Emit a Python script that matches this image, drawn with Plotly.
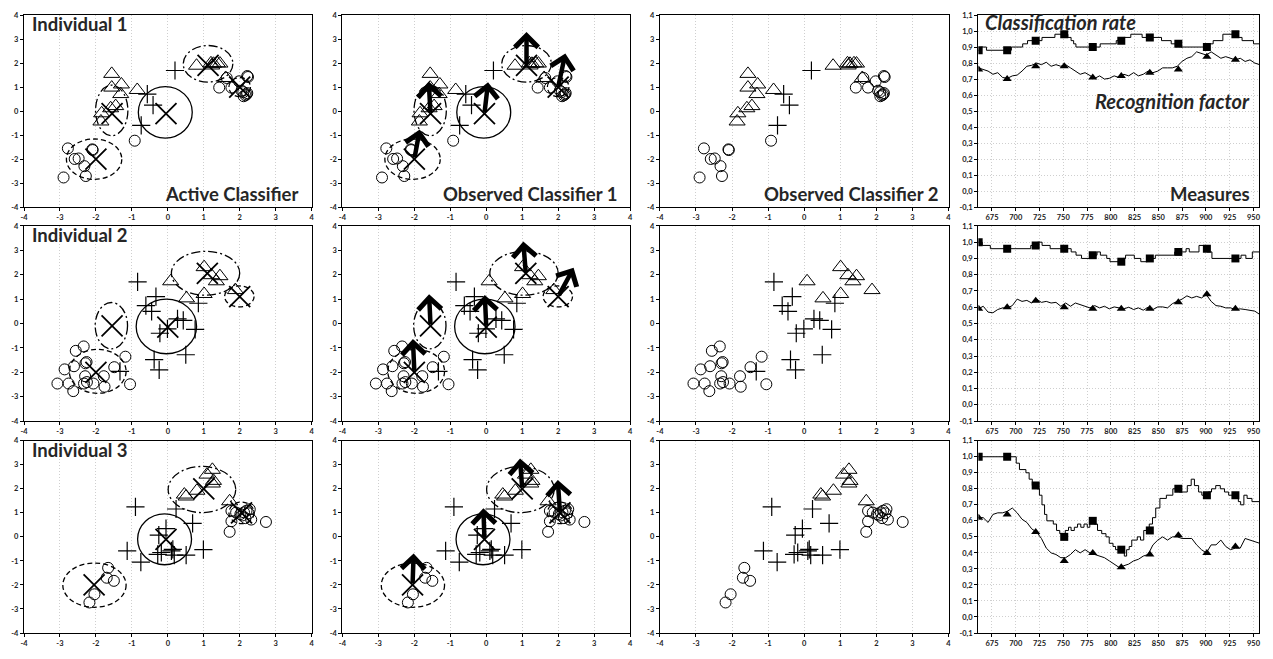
import plotly.graph_objects as go
from plotly.subplots import make_subplots

# ---------------- DATA ----------------
# Individual 1
tri_x_1 = [-1.56, -1.56, -1.29, -1.31, -0.85, -1.59, -1.45, -1.84, -1.86, 0.80, 1.20, 1.27, 1.38, 1.45, 1.61, 1.22]
tri_y_1 = [1.55, 0.98, 1.11, 0.71, 0.88, 0.12, 0.21, -0.09, -0.43, 1.89, 1.99, 1.97, 1.99, 1.98, 1.38, 1.90]
plus_x_1 = [0.20, -0.57, -0.41, -0.74]
plus_y_1 = [1.69, 0.71, 0.25, -0.59]
circ_x_1 = [-2.78, -2.10, -2.09, -2.59, -2.48, -2.32, -2.90, -2.28, -0.92, 1.43, 1.77, 1.64, 1.98, 2.21, 2.23, 2.10, 2.16, 2.21, 2.11, 2.19, 2.05]
circ_y_1 = [-1.55, -1.59, -1.62, -1.99, -1.97, -2.29, -2.76, -2.70, -1.23, 0.98, 0.98, 1.38, 1.24, 1.46, 1.42, 0.79, 0.66, 0.75, 0.62, 0.70, 0.85]
cent_x_1 = [-0.05, -1.55, -2.00, 1.12, 2.00]
cent_y_1 = [-0.10, -0.10, -2.00, 1.90, 1.00]
tip_x_1 = [0.05, -1.60, -1.85, 1.12, 2.20]
tip_y_1 = [1.20, 1.23, -0.76, 3.29, 2.40]
ell_cx_1 = [-0.07, -1.56, -2.05, 1.12, 2.00]
ell_cy_1 = [-0.05, 0.03, -2.00, 1.97, 1.00]
ell_rx_1 = [0.75, 0.45, 0.77, 0.69, 0.30]
ell_ry_1 = [1.07, 1.05, 0.84, 0.76, 0.40]
ell_st_1 = ["solid", "dashdot", "dash", "dashdot", "dash"]

# Individual 2
tri_x_2 = [1.01, 1.21, 1.45, 1.35, 0.08, 0.52, 1.01, 1.88]
tri_y_2 = [2.31, 1.98, 1.94, 1.73, 1.73, 1.03, 1.21, 1.37]
plus_x_2 = [-0.84, -0.33, -0.61, -0.45, 0.27, 0.43, -0.01, -0.22, 0.76, 0.50, -0.38, -0.24, -1.33, 0.85]
plus_y_2 = [1.71, 1.10, 0.73, 0.50, 0.19, 0.13, -0.22, -0.40, -0.24, -1.28, -1.48, -1.90, -1.96, 0.83]
circ_x_2 = [-2.34, -2.56, -1.18, -2.29, -2.26, -1.49, -2.61, -2.87, -1.78, -2.30, -3.07, -2.76, -2.33, -2.07, -1.76, -2.63, -1.05, -2.25]
circ_y_2 = [-0.94, -1.12, -1.36, -1.63, -1.58, -1.79, -1.75, -1.88, -2.16, -2.16, -2.46, -2.46, -2.46, -2.46, -2.59, -2.77, -2.49, -2.40]
cent_x_2 = [0.00, -1.55, -2.00, 1.10, 2.00]
cent_y_2 = [-0.15, -0.10, -2.00, 2.05, 1.10]
tip_x_2 = [-0.04, -1.59, -2.04, 1.03, 2.43]
tip_y_2 = [1.17, 1.20, -0.64, 3.36, 2.28]
ell_cx_2 = [-0.04, -1.57, -1.95, 1.05, 1.99]
ell_cy_2 = [-0.12, -0.09, -1.96, 2.06, 1.11]
ell_rx_2 = [0.84, 0.45, 0.79, 0.95, 0.41]
ell_ry_2 = [1.12, 0.95, 0.90, 0.90, 0.43]
ell_st_2 = ["solid", "dashdot", "dash", "dashdot", "dash"]

# Individual 3
tri_x_3 = [1.24, 1.09, 1.27, 1.24, 0.81, 0.46, 0.51, 1.72]
tri_y_3 = [2.79, 2.59, 2.33, 2.22, 1.92, 1.76, 1.68, 1.48]
plus_x_3 = [-0.90, 0.23, 0.69, -0.05, -0.25, -1.13, -0.75, 0.99, 0.14, -0.28, -0.18, 0.18, 0.51, 0.10]
plus_y_3 = [1.25, 1.16, 0.56, 0.34, 0.07, -0.58, -1.05, -0.53, -0.52, -0.73, -0.65, -0.76, -0.76, -0.58]
circ_x_3 = [-1.66, -1.70, -1.50, -2.04, -2.18, 1.72, 1.77, 1.77, 1.90, 2.07, 2.19, 2.25, 2.32, 2.73, 2.16, 2.28, 2.02, 2.12]
circ_y_3 = [-1.29, -1.70, -1.83, -2.39, -2.73, 0.21, 0.65, 1.08, 1.01, 0.89, 1.09, 0.98, 0.72, 0.62, 0.78, 1.15, 0.95, 1.02]
cent_x_3 = [-0.05, -2.05, 1.00, 2.05]
cent_y_3 = [-0.10, -2.00, 2.00, 1.00]
tip_x_3 = [-0.08, -2.02, 0.94, 1.99]
tip_y_3 = [1.19, -0.69, 3.26, 2.37]
ell_cx_3 = [-0.09, -2.04, 0.95, 2.05]
ell_cy_3 = [-0.10, -2.01, 1.97, 1.00]
ell_rx_3 = [0.75, 0.88, 0.94, 0.35]
ell_ry_3 = [1.06, 0.92, 0.96, 0.45]
ell_st_3 = ["solid", "dash", "dashdot", "dash"]

# Time series: classification rate (step change points) and recognition factor
rate_m_1 = [660.7, 664.1, 669.2, 695.4, 707.3, 712.4, 727.6, 741.2, 754.8, 758.2, 760.9, 763.3, 788.8, 805.7, 814.2, 821.0, 832.9, 853.3, 863.5, 873.6, 902.5, 907.6, 917.8, 933.0, 938.0, 950.0, 956.0]
rate_v_1 = [0.88, 0.90, 0.88, 0.90, 0.92, 0.94, 0.96, 0.98, 0.96, 0.94, 0.92, 0.90, 0.92, 0.94, 0.96, 0.98, 0.96, 0.94, 0.92, 0.90, 0.92, 0.94, 0.98, 0.96, 0.94, 0.92, 0.92]
rate_m_2 = [660.7, 664.8, 673.3, 715.8, 723.0, 727.7, 736.2, 758.3, 763.4, 769.2, 778.7, 785.5, 789.0, 795.7, 799.1, 812.8, 815.5, 824.7, 831.5, 838.3, 846.8, 867.2, 879.1, 882.5, 892.7, 897.8, 901.2, 906.3, 936.9, 942.0, 948.8, 956.0]
rate_v_2 = [1.00, 0.98, 0.96, 0.98, 1.00, 0.98, 0.96, 0.94, 0.92, 0.90, 0.92, 0.94, 0.92, 0.90, 0.88, 0.90, 0.92, 0.90, 0.88, 0.90, 0.92, 0.94, 0.96, 0.94, 0.98, 0.96, 0.94, 0.90, 0.92, 0.90, 0.94, 0.94]
rate_m_3 = [660.7, 700.5, 703.9, 710.7, 714.1, 717.4, 722.5, 724.9, 727.6, 730.3, 732.7, 739.5, 742.9, 746.3, 748.7, 752.1, 755.5, 758.2, 761.6, 765.0, 768.4, 771.8, 775.2, 777.9, 782.6, 786.0, 790.4, 794.9, 798.3, 802.3, 805.0, 814.2, 816.6, 819.3, 822.0, 827.8, 831.2, 834.6, 840.4, 843.8, 847.2, 851.6, 858.4, 865.2, 872.0, 880.4, 884.5, 887.9, 892.3, 895.7, 902.5, 905.9, 910.3, 915.1, 919.5, 923.9, 928.0, 934.1, 936.5, 939.9, 943.3, 948.4, 956.0]
rate_v_3 = [1.00, 0.96, 0.92, 0.90, 0.86, 0.82, 0.80, 0.76, 0.70, 0.64, 0.60, 0.58, 0.54, 0.52, 0.50, 0.54, 0.56, 0.54, 0.56, 0.58, 0.56, 0.58, 0.56, 0.60, 0.58, 0.54, 0.52, 0.50, 0.46, 0.44, 0.42, 0.38, 0.42, 0.44, 0.48, 0.50, 0.48, 0.54, 0.58, 0.62, 0.68, 0.74, 0.76, 0.80, 0.78, 0.82, 0.86, 0.82, 0.78, 0.76, 0.78, 0.80, 0.82, 0.80, 0.78, 0.76, 0.74, 0.72, 0.70, 0.76, 0.74, 0.72, 0.72]

recog_v_1 = [0.77, 0.76, 0.75, 0.73, 0.74, 0.71, 0.705, 0.72, 0.725, 0.75, 0.78, 0.786, 0.80, 0.79, 0.805, 0.78, 0.79, 0.78, 0.79, 0.77, 0.75, 0.73, 0.74, 0.72, 0.705, 0.72, 0.70, 0.705, 0.72, 0.71, 0.73, 0.72, 0.74, 0.72, 0.73, 0.75, 0.74, 0.75, 0.77, 0.77, 0.77, 0.78, 0.81, 0.83, 0.84, 0.87, 0.86, 0.85, 0.87, 0.85, 0.83, 0.84, 0.83, 0.82, 0.83, 0.81, 0.82, 0.80, 0.79]
recog_v_2 = [0.59, 0.606, 0.57, 0.566, 0.586, 0.596, 0.596, 0.61, 0.65, 0.636, 0.642, 0.626, 0.65, 0.63, 0.636, 0.626, 0.63, 0.606, 0.626, 0.606, 0.626, 0.616, 0.606, 0.596, 0.61, 0.596, 0.606, 0.59, 0.602, 0.596, 0.59, 0.60, 0.586, 0.596, 0.582, 0.60, 0.586, 0.602, 0.602, 0.596, 0.622, 0.636, 0.65, 0.67, 0.657, 0.667, 0.657, 0.677, 0.636, 0.61, 0.606, 0.596, 0.596, 0.586, 0.59, 0.586, 0.582, 0.576, 0.556]
recog_v_3 = [0.62, 0.62, 0.59, 0.64, 0.65, 0.65, 0.66, 0.68, 0.65, 0.61, 0.59, 0.55, 0.53, 0.49, 0.43, 0.40, 0.39, 0.37, 0.37, 0.39, 0.42, 0.40, 0.42, 0.40, 0.39, 0.38, 0.37, 0.35, 0.33, 0.31, 0.32, 0.33, 0.35, 0.36, 0.38, 0.39, 0.45, 0.48, 0.50, 0.48, 0.50, 0.50, 0.49, 0.49, 0.49, 0.45, 0.42, 0.40, 0.45, 0.45, 0.48, 0.44, 0.42, 0.43, 0.43, 0.49, 0.48, 0.47, 0.46]

mark_m = [661, 691, 721, 751, 781, 811, 841, 871, 901, 931]
rate_mark_1 = [0.88, 0.88, 0.94, 0.98, 0.90, 0.94, 0.96, 0.92, 0.90, 0.98]
recog_mark_1 = [0.76, 0.70, 0.78, 0.78, 0.71, 0.72, 0.74, 0.76, 0.84, 0.82]
rate_mark_2 = [1.00, 0.96, 0.98, 0.96, 0.92, 0.88, 0.90, 0.94, 0.96, 0.90]
recog_mark_2 = [0.59, 0.60, 0.64, 0.60, 0.59, 0.59, 0.59, 0.63, 0.68, 0.59]
rate_mark_3 = [1.00, 1.00, 0.82, 0.50, 0.60, 0.42, 0.54, 0.80, 0.76, 0.76]
recog_mark_3 = [0.62, 0.64, 0.53, 0.35, 0.40, 0.31, 0.39, 0.51, 0.40, 0.44]

xy_ticks = [-4, -3, -2, -1, 0, 1, 2, 3, 4]
xy_ticktext = ["-4", "-3", "-2", "-1", "0", "1", "2", "3", "4"]
m_ticks = [675, 700, 725, 750, 775, 800, 825, 850, 875, 900, 925, 950]
r_ticks = [-0.1, 0.0, 0.1, 0.2, 0.3, 0.4, 0.5, 0.6, 0.7, 0.8, 0.9, 1.0, 1.1]
r_ticktext = ["-0,1", "0,0", "0,1", "0,2", "0,3", "0,4", "0,5", "0,6", "0,7", "0,8", "0,9", "1,0", "1,1"]

col_titles = ["Active Classifier", "Observed Classifier 1", "Observed Classifier 2"]
row_titles = ["Individual 1", "Individual 2", "Individual 3"]

inds = [
    dict(tx=tri_x_1, ty=tri_y_1, px=plus_x_1, py=plus_y_1, cx=circ_x_1, cy=circ_y_1,
         kx=cent_x_1, ky=cent_y_1, ax=tip_x_1, ay=tip_y_1,
         ex=ell_cx_1, ey=ell_cy_1, erx=ell_rx_1, ery=ell_ry_1, es=ell_st_1),
    dict(tx=tri_x_2, ty=tri_y_2, px=plus_x_2, py=plus_y_2, cx=circ_x_2, cy=circ_y_2,
         kx=cent_x_2, ky=cent_y_2, ax=tip_x_2, ay=tip_y_2,
         ex=ell_cx_2, ey=ell_cy_2, erx=ell_rx_2, ery=ell_ry_2, es=ell_st_2),
    dict(tx=tri_x_3, ty=tri_y_3, px=plus_x_3, py=plus_y_3, cx=circ_x_3, cy=circ_y_3,
         kx=cent_x_3, ky=cent_y_3, ax=tip_x_3, ay=tip_y_3,
         ex=ell_cx_3, ey=ell_cy_3, erx=ell_rx_3, ery=ell_ry_3, es=ell_st_3),
]
series = [
    (rate_m_1, rate_v_1, recog_v_1, rate_mark_1, recog_mark_1),
    (rate_m_2, rate_v_2, recog_v_2, rate_mark_2, recog_mark_2),
    (rate_m_3, rate_v_3, recog_v_3, rate_mark_3, recog_mark_3),
]
recog_m = [round(660.7 + 5.1 * k, 1) for k in range(59)]

# ---------------- FIGURE ----------------
# page body has an 8px margin: keep the figure inside the visible page
W, H = 1257, 643
ML, MR, MT, MB = 13, 3, 3, 10
PW, PH = W - ML - MR, H - MT - MB
col_px = [(13, 302), (333, 622), (652, 942), (972, 1254)]
row_px = [(3, 199), (218, 417), (437, 633)]

fig = make_subplots(rows=3, cols=4)

FONT = "Lato"
TXT = "#262626"
tickfont = dict(family=FONT, size=7.5, color="#222", weight="bold")
grid = dict(showgrid=True, gridcolor="#cfcfcf", griddash="1px,2px", gridwidth=1)
frame = dict(showline=True, linecolor="black", linewidth=1.3, mirror=True,
             ticks="outside", ticklen=3, tickcolor="black", tickwidth=1,
             zeroline=False, tickfont=tickfont)
dash_map = {"solid": "solid", "dash": "5px,3px", "dashdot": "9px,3px,2px,3px"}
label_font = dict(family=FONT, size=18.5, color=TXT, weight=700)
italic_font = dict(family=FONT, size=20, color=TXT, weight=700, style="italic")

shapes, annotations = [], []
for r in range(3):
    for c in range(4):
        idx = r * 4 + c + 1
        xa = "xaxis" if idx == 1 else f"xaxis{idx}"
        ya = "yaxis" if idx == 1 else f"yaxis{idx}"
        xr = "x" if idx == 1 else f"x{idx}"
        yr = "y" if idx == 1 else f"y{idx}"
        xdom = [(col_px[c][0] - ML) / PW, (col_px[c][1] - ML) / PW]
        ydom = [1 - (row_px[r][1] - MT) / PH, 1 - (row_px[r][0] - MT) / PH]
        if c < 3:
            fig.layout[xa].update(domain=xdom, range=[-4, 4], tickvals=xy_ticks, ticktext=xy_ticktext, **grid, **frame)
            fig.layout[ya].update(domain=ydom, range=[-4, 4], tickvals=xy_ticks, ticktext=xy_ticktext, showgrid=False, **frame)
            d = inds[r]
            fig.add_trace(go.Scatter(x=d["cx"], y=d["cy"], mode="markers",
                                     marker=dict(symbol="circle-open", size=11, color="black", line=dict(width=1)),
                                     showlegend=False), row=r + 1, col=c + 1)
            fig.add_trace(go.Scatter(x=d["tx"], y=d["ty"], mode="markers",
                                     marker=dict(symbol="triangle-up-open", size=14, color="black", line=dict(width=1)),
                                     showlegend=False), row=r + 1, col=c + 1)
            fig.add_trace(go.Scatter(x=d["px"], y=d["py"], mode="markers",
                                     marker=dict(symbol="cross-thin-open", size=13, color="black", line=dict(width=1.2)),
                                     showlegend=False), row=r + 1, col=c + 1)
            if c < 2:
                fig.add_trace(go.Scatter(x=d["kx"], y=d["ky"], mode="markers",
                                         marker=dict(symbol="x-thin-open", size=21, color="black", line=dict(width=1.8)),
                                         showlegend=False), row=r + 1, col=c + 1)
                for ex, ey, erx, ery, es in zip(d["ex"], d["ey"], d["erx"], d["ery"], d["es"]):
                    shapes.append(dict(type="circle", xref=xr, yref=yr, x0=ex - erx, x1=ex + erx,
                                       y0=ey - ery, y1=ey + ery,
                                       line=dict(color="black", width=1.3, dash=dash_map[es])))
            if c == 1:
                for kx, ky, tx, ty in zip(d["kx"], d["ky"], d["ax"], d["ay"]):
                    annotations.append(dict(x=tx, y=ty, ax=kx, ay=ky, xref=xr, yref=yr, axref=xr, ayref=yr,
                                            showarrow=True, arrowhead=4, arrowsize=1.0, arrowwidth=4.5,
                                            arrowcolor="black", text="", standoff=0))
            if c == 0:
                annotations.append(dict(text=row_titles[r], xref=f"{xr} domain", yref=f"{yr} domain",
                                        x=0.02, y=1.02, xanchor="left", yanchor="top", showarrow=False,
                                        font=label_font))
            if r == 0:
                annotations.append(dict(text=col_titles[c], xref=f"{xr} domain", yref=f"{yr} domain",
                                        x=0.96 if c < 2 else 0.97, y=0.0, xanchor="right", yanchor="bottom",
                                        showarrow=False, font=label_font))
        else:
            fig.layout[xa].update(domain=xdom, range=[660.7, 955.8], tickvals=m_ticks, **grid, **frame)
            fig.layout[ya].update(domain=ydom, range=[-0.1, 1.1], tickvals=r_ticks, ticktext=r_ticktext, **grid, **frame)
            rm, rv, gv, rmk, gmk = series[r]
            fig.add_trace(go.Scatter(x=rm, y=rv, mode="lines", line=dict(color="black", width=1, shape="hv"),
                                     showlegend=False), row=r + 1, col=4)
            fig.add_trace(go.Scatter(x=recog_m, y=gv, mode="lines", line=dict(color="black", width=1),
                                     showlegend=False), row=r + 1, col=4)
            fig.add_trace(go.Scatter(x=mark_m, y=rmk, mode="markers",
                                     marker=dict(symbol="square", size=8, color="black"),
                                     showlegend=False), row=r + 1, col=4)
            fig.add_trace(go.Scatter(x=mark_m, y=gmk, mode="markers",
                                     marker=dict(symbol="triangle-up", size=8, color="black"),
                                     showlegend=False), row=r + 1, col=4)
            if r == 0:
                annotations.append(dict(text="Classification rate", xref=f"{xr} domain", yref=f"{yr} domain",
                                        x=0.015, y=1.035, xanchor="left", yanchor="top", showarrow=False,
                                        font=italic_font))
                annotations.append(dict(text="Recognition factor", xref=f"{xr} domain", yref=f"{yr} domain",
                                        x=0.975, y=0.555, xanchor="right", yanchor="middle", showarrow=False,
                                        font=italic_font))
                annotations.append(dict(text="Measures", xref=f"{xr} domain", yref=f"{yr} domain",
                                        x=0.975, y=0.0, xanchor="right", yanchor="bottom", showarrow=False,
                                        font=label_font))

fig.update_layout(width=W, height=H, margin=dict(l=ML, r=MR, t=MT, b=MB),
                  plot_bgcolor="white", paper_bgcolor="white", showlegend=False,
                  shapes=shapes, annotations=annotations)
fig.write_html("out.html")
